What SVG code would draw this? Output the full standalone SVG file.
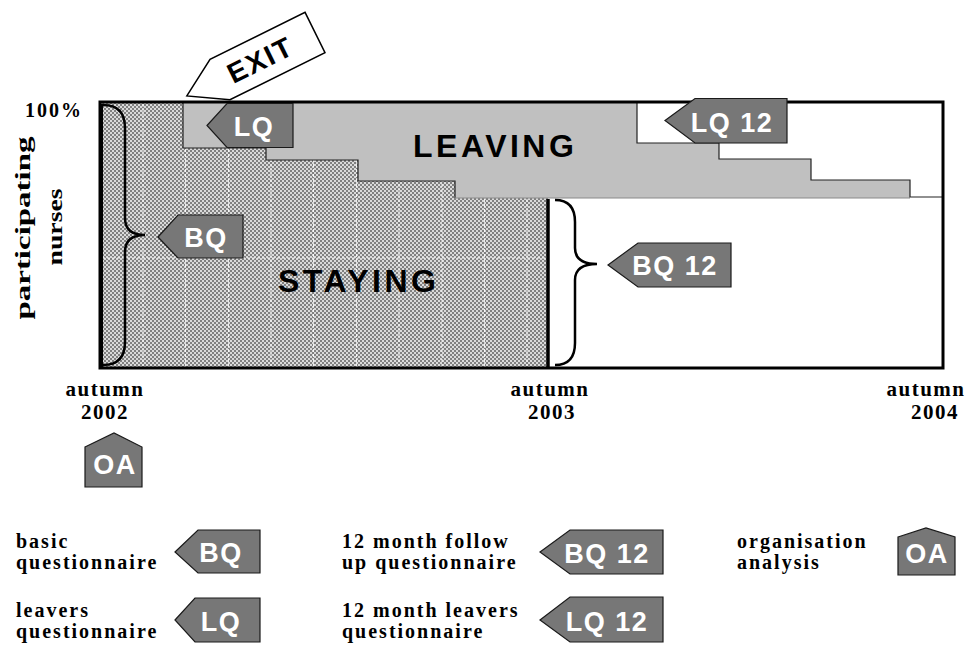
<svg xmlns="http://www.w3.org/2000/svg" width="967" height="645" viewBox="0 0 967 645">
<defs>
<pattern id="hatch" x="0" y="0" width="4" height="4" patternUnits="userSpaceOnUse">
<rect width="4" height="4" fill="#dadada"/>
<rect x="0" y="0" width="2" height="2" fill="#808080"/>
<rect x="2" y="2" width="2" height="2" fill="#808080"/>
</pattern>
</defs>
<style>
.tag{fill:#777777;stroke:#1a1a1a;stroke-width:1.2}
.tagt{font-family:"Liberation Sans",Arial,sans-serif;font-weight:bold;font-size:27px;fill:#ffffff;text-anchor:middle;letter-spacing:1.5px}
.big{font-family:"Liberation Sans",Arial,sans-serif;font-weight:bold;font-size:32px;fill:#000;letter-spacing:3.5px}
.ser{font-family:"Liberation Serif","Times New Roman",serif;font-weight:bold;fill:#000}
.leg{font-size:20px;letter-spacing:2px}
.ax{font-size:21px;letter-spacing:1.5px;text-anchor:middle}
.brace{fill:none;stroke:#000;stroke-width:2.5}
.step{fill:none;stroke:#222;stroke-width:1.2}
.grid{stroke:#ffffff;stroke-width:1;stroke-dasharray:3 2;opacity:0.85}
</style>

<g id="chart">
<rect id="staying-area" x="100" y="102" width="448" height="266" fill="url(#hatch)"/>
<g id="grid-lines">
<line class="grid" x1="143" y1="104" x2="143" y2="366"/>
<line class="grid" x1="185.5" y1="104" x2="185.5" y2="366"/>
<line class="grid" x1="228.5" y1="104" x2="228.5" y2="366"/>
<line class="grid" x1="271" y1="104" x2="271" y2="366"/>
<line class="grid" x1="313.5" y1="104" x2="313.5" y2="366"/>
<line class="grid" x1="356.5" y1="104" x2="356.5" y2="366"/>
<line class="grid" x1="399" y1="104" x2="399" y2="366"/>
<line class="grid" x1="442" y1="104" x2="442" y2="366"/>
<line class="grid" x1="484.5" y1="104" x2="484.5" y2="366"/>
<line class="grid" x1="527" y1="104" x2="527" y2="366"/>
<line class="grid" x1="102" y1="258" x2="546" y2="258" opacity="0.5"/>
</g>
<polygon id="leaving-area" points="183,102 637,102 637,143 719,143 719,159 811,159 811,180 910,180 910,198 455,198 455,181 358,181 358,160 266,160 266,148 183,148" fill="#c0c0c0"/>
<polyline class="step" points="183,102 183,148 266,148 266,160 358,160 358,181 455,181 455,198"/>
<line x1="455" y1="198" x2="910" y2="198" stroke="#8a8a8a" stroke-width="1"/>
<polyline class="step" points="637,102 637,143 719,143 719,159 811,159 811,180 910,180 910,197 942,197"/>
<rect id="frame" x="100" y="102" width="843" height="266" fill="none" stroke="#000" stroke-width="3"/>
<line x1="548" y1="199" x2="548" y2="368" stroke="#000" stroke-width="3.5"/>
<line x1="101" y1="104" x2="101" y2="367" stroke="#000" stroke-width="4"/>
<text class="big" x="413" y="157">LEAVING</text>
<text class="big" x="278" y="292">STAYING</text>
</g>

<g id="connectors">
<path class="brace" d="M103,105 Q125,105 125,128 L125,218 Q125,235 145,235 Q125,235 125,252 L125,342 Q125,365 103,365"/>
<path class="brace" d="M555,200 Q575,200 575,222 L575,248 Q575,264 597,264 Q575,264 575,280 L575,343 Q575,365 555,365"/>
</g>

<g id="exit-arrow" transform="translate(220,79.5) rotate(-26.3)">
<polygon points="-37,0 0,-22.5 106,-22.5 106,22.5 0,22.5" fill="#ffffff" stroke="#000" stroke-width="1.5"/>
<text x="45" y="10" font-family="Liberation Sans, Arial, sans-serif" font-weight="bold" font-size="28" fill="#000" text-anchor="middle" letter-spacing="2">EXIT</text>
</g>

<g id="tag-lq">
<polygon class="tag" points="207,125.5 227,103.5 293,103.5 293,147.5 227,147.5"/>
<text class="tagt" x="254" y="136">LQ</text>
</g>
<g id="tag-lq12">
<polygon class="tag" points="665,120.5 695,98.5 787,98.5 787,143 695,143"/>
<text class="tagt" x="732" y="132">LQ 12</text>
</g>
<g id="tag-bq">
<polygon class="tag" points="158,237 178,215 243,215 243,258 178,258"/>
<text class="tagt" x="206" y="247">BQ</text>
</g>
<g id="tag-bq12">
<polygon class="tag" points="608,265 638,243 731,243 731,287 638,287"/>
<text class="tagt" x="675" y="275">BQ 12</text>
</g>
<g id="tag-oa">
<polygon class="tag" points="85,447 114,433 142,447 142,487 85,487"/>
<text class="tagt" x="115" y="474">OA</text>
</g>

<g id="axis-labels">
<text class="ser" x="25" y="117" font-size="20" letter-spacing="2">100%</text>
<text class="ser" font-size="22" text-anchor="middle" transform="translate(30,228) rotate(-90)" textLength="183" lengthAdjust="spacingAndGlyphs">participating</text>
<text class="ser" font-size="22" text-anchor="middle" transform="translate(62,227) rotate(-90)" textLength="77" lengthAdjust="spacingAndGlyphs">nurses</text>
<text class="ser ax" x="105" y="396">autumn</text>
<text class="ser ax" x="105" y="419">2002</text>
<text class="ser ax" x="550" y="396">autumn</text>
<text class="ser ax" x="552" y="419">2003</text>
<text class="ser ax" x="926" y="396">autumn</text>
<text class="ser ax" x="935" y="419">2004</text>
</g>

<g id="legend">
<g id="legend-bq">
<text class="ser leg" x="16" y="548">basic</text>
<text class="ser leg" x="16" y="569">questionnaire</text>
<polygon class="tag" points="175,552 198,530 260,530 260,573 198,573"/>
<text class="tagt" x="221" y="562">BQ</text>
</g>
<g id="legend-lq">
<text class="ser leg" x="16" y="617">leavers</text>
<text class="ser leg" x="16" y="638">questionnaire</text>
<polygon class="tag" points="175,620 195,598 260,598 260,642 195,642"/>
<text class="tagt" x="221" y="631">LQ</text>
</g>
<g id="legend-bq12">
<text class="ser leg" x="342" y="548">12 month follow</text>
<text class="ser leg" x="342" y="569">up questionnaire</text>
<polygon class="tag" points="540,552 570,530 663,530 663,574 570,574"/>
<text class="tagt" x="607" y="563">BQ 12</text>
</g>
<g id="legend-lq12">
<text class="ser leg" x="342" y="617">12 month leavers</text>
<text class="ser leg" x="342" y="638">questionnaire</text>
<polygon class="tag" points="540,620 570,597 663,597 663,642 570,642"/>
<text class="tagt" x="607" y="631">LQ 12</text>
</g>
<g id="legend-oa">
<text class="ser leg" x="737" y="548">organisation</text>
<text class="ser leg" x="737" y="569">analysis</text>
<polygon class="tag" points="898,537 926,528 955,537 955,575 898,575"/>
<text class="tagt" x="927" y="563">OA</text>
</g>
</g>
</svg>
